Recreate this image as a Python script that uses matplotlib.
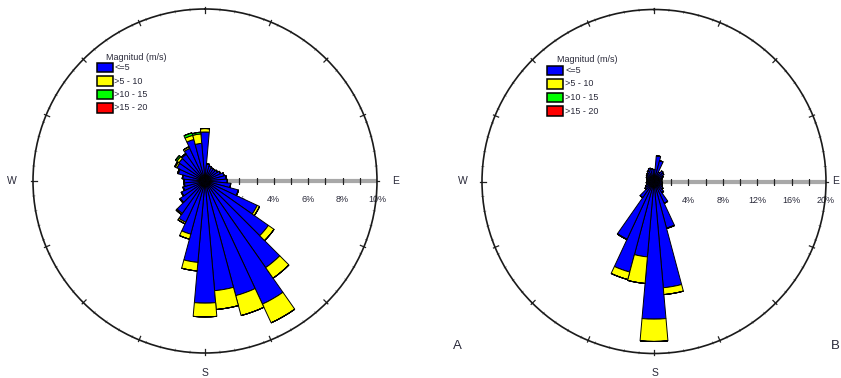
import numpy as np
import matplotlib
matplotlib.use("Agg")
import matplotlib.pyplot as plt
from matplotlib.patches import Rectangle
from matplotlib.transforms import offset_copy

plt.rcParams['font.family'] = ['Liberation Sans', 'DejaVu Sans']

# ---------------- data ----------------
directions = list(range(0, 360, 10))
classes = ["<=5", ">5 - 10", ">10 - 15", ">15 - 20"]
legend_title = "Magnitud (m/s)"

# Chart A (percent frequency per 10-degree sector)
a_le5 = [2.85, 1.0, 0.9, 0.85, 0.85, 0.9, 1.0, 1.15, 1.25, 1.3, 1.5, 2.0,
         3.35, 4.5, 6.15, 7.9, 6.9, 6.4, 7.1, 4.75, 3.2, 2.65, 2.3, 1.75,
         1.5, 1.3, 1.2, 1.2, 1.3, 1.6, 1.8, 1.85, 1.9, 2.1, 2.5, 2.2]
a_5_10 = [0.2, 0.0, 0.0, 0.0, 0.0, 0.0, 0.0, 0.0, 0.0, 0.0, 0.0, 0.02,
          0.15, 0.4, 0.75, 1.2, 1.2, 1.1, 0.8, 0.5, 0.3, 0.1, 0.08, 0.05,
          0.03, 0.03, 0.03, 0.03, 0.03, 0.05, 0.1, 0.15, 0.05, 0.1, 0.25, 0.55]
a_10_15 = [0.0] * 30 + [0.05, 0.1, 0.0, 0.0, 0.15, 0.1]
a_15_20 = [0.0] * 36
a_ticks = [2, 3, 4, 5, 6, 7, 8, 9, 10]
a_ticklabels = ["2%", "", "4%", "", "6%", "", "8%", "", "10%"]

# Chart B
b_le5 = [1.4, 3.0, 2.5, 1.2, 1.5, 1.4, 1.2, 1.0, 0.9, 0.9, 1.0, 1.0,
         1.1, 1.3, 1.6, 2.8, 5.6, 12.4, 16.0, 8.8, 10.9, 7.4, 2.3, 1.3,
         1.1, 0.9, 0.9, 0.8, 0.8, 0.9, 1.0, 1.1, 1.2, 1.4, 1.6, 1.5]
b_5_10 = [0.0] * 16 + [0.05, 0.8, 2.6, 3.1, 0.9, 0.05] + [0.0] * 14
b_10_15 = [0.0] * 36
b_15_20 = [0.0] * 36
b_ticks = [2, 4, 6, 8, 10, 12, 14, 16, 18, 20]
b_ticklabels = ["", "4%", "", "8%", "", "12%", "", "16%", "", "20%"]

colors = ["#0000ff", "#ffff00", "#00ff00", "#ff0000"]

# ---------------- figure ----------------
W, H = 841, 378
fig = plt.figure(figsize=(W / 100, H / 100), dpi=100)
TXT = "#2a2a3a"


def rect(cx, cy, R):
    return [(cx - R) / W, (H - cy - R) / H, 2 * R / W, 2 * R / H]


def rose(cx, cy, R, rmax, series, ticks, ticklabels):
    ax = fig.add_axes(rect(cx, cy, R), projection="polar")
    ax.set_theta_zero_location("N")
    ax.set_theta_direction(-1)
    ax.set_ylim(0, rmax)
    ax.grid(False)
    ax.set_xticks([])
    ax.set_yticks([])
    ax.spines["polar"].set_color("#1a1a1a")
    ax.spines["polar"].set_linewidth(1.2)
    ax.patch.set_alpha(0)

    # circle ticks
    for d in np.arange(0, 360, 5):
        t = np.radians(d)
        ax.plot([t, t], [rmax * 0.992, rmax * 1.006], color="#777777", lw=0.5,
                clip_on=False, zorder=1)
    for d in np.arange(0, 360, 22.5):
        t = np.radians(d)
        ax.plot([t, t], [rmax * 0.978, rmax * 1.01], color="#222222", lw=0.9,
                clip_on=False, zorder=1)

    # radial axis toward E
    ax.plot([np.pi / 2, np.pi / 2], [0, rmax], color="#a8a8a8", lw=3,
            zorder=1, solid_capstyle="butt")
    ax.plot([np.pi / 2] * len(ticks), ticks, ls="none", marker="|",
            color="#222222", ms=4, mew=0.9, zorder=1)
    tr = offset_copy(ax.transData, fig=fig, x=0, y=-19, units="dots")
    for v, lab in zip(ticks, ticklabels):
        if lab:
            ax.text(np.pi / 2, v, lab, transform=tr, ha="center", va="center",
                    fontsize=6.5, color=TXT, zorder=1)

    theta = np.radians(directions)
    width = np.radians(10)
    bottom = np.zeros(len(directions))
    for vals, c in zip(series, colors):
        vals = np.asarray(vals, dtype=float)
        ax.bar(theta, vals, width=width, bottom=bottom, color=c,
               edgecolor="black", linewidth=0.7, zorder=2)
        bottom = bottom + vals
    return ax


rose(205, 181, 172, 10, [a_le5, a_5_10, a_10_15, a_15_20], a_ticks, a_ticklabels)
rose(654, 181.5, 172, 20, [b_le5, b_5_10, b_10_15, b_15_20], b_ticks, b_ticklabels)


def fig_text(x, y, s, **kw):
    fig.text(x / W, 1 - y / H, s, **kw)


def legend(x0, ty, by):
    fig_text(x0 + 10, ty, legend_title, fontsize=6.5, color=TXT, va="center", ha="left")
    for i, (lab, c) in enumerate(zip(classes, colors)):
        y = by + i * 13.5
        fig.add_artist(Rectangle((x0 / W, 1 - (y + 9) / H), 16 / W, 9 / H,
                                 transform=fig.transFigure, facecolor=c,
                                 edgecolor="black", linewidth=1.1))
        fig_text(x0 + 18, y + 4.5, lab, fontsize=6.5, color=TXT, va="center", ha="left")


legend(96.5, 57, 63)
legend(547, 59, 66)

# compass labels
fig_text(12, 181, "W", fontsize=7.5, color=TXT, ha="center", va="center")
fig_text(396, 181, "E", fontsize=7.5, color=TXT, ha="center", va="center")
fig_text(205, 373, "S", fontsize=7.5, color=TXT, ha="center", va="center")
fig_text(463, 181, "W", fontsize=7.5, color=TXT, ha="center", va="center")
fig_text(836, 181, "E", fontsize=7.5, color=TXT, ha="center", va="center")
fig_text(655, 373, "S", fontsize=7.5, color=TXT, ha="center", va="center")

fig_text(457, 346, "A", fontsize=9.5, color=TXT, ha="center", va="center")
fig_text(835, 346, "B", fontsize=9.5, color=TXT, ha="center", va="center")

fig.savefig("out.png", dpi=100)
